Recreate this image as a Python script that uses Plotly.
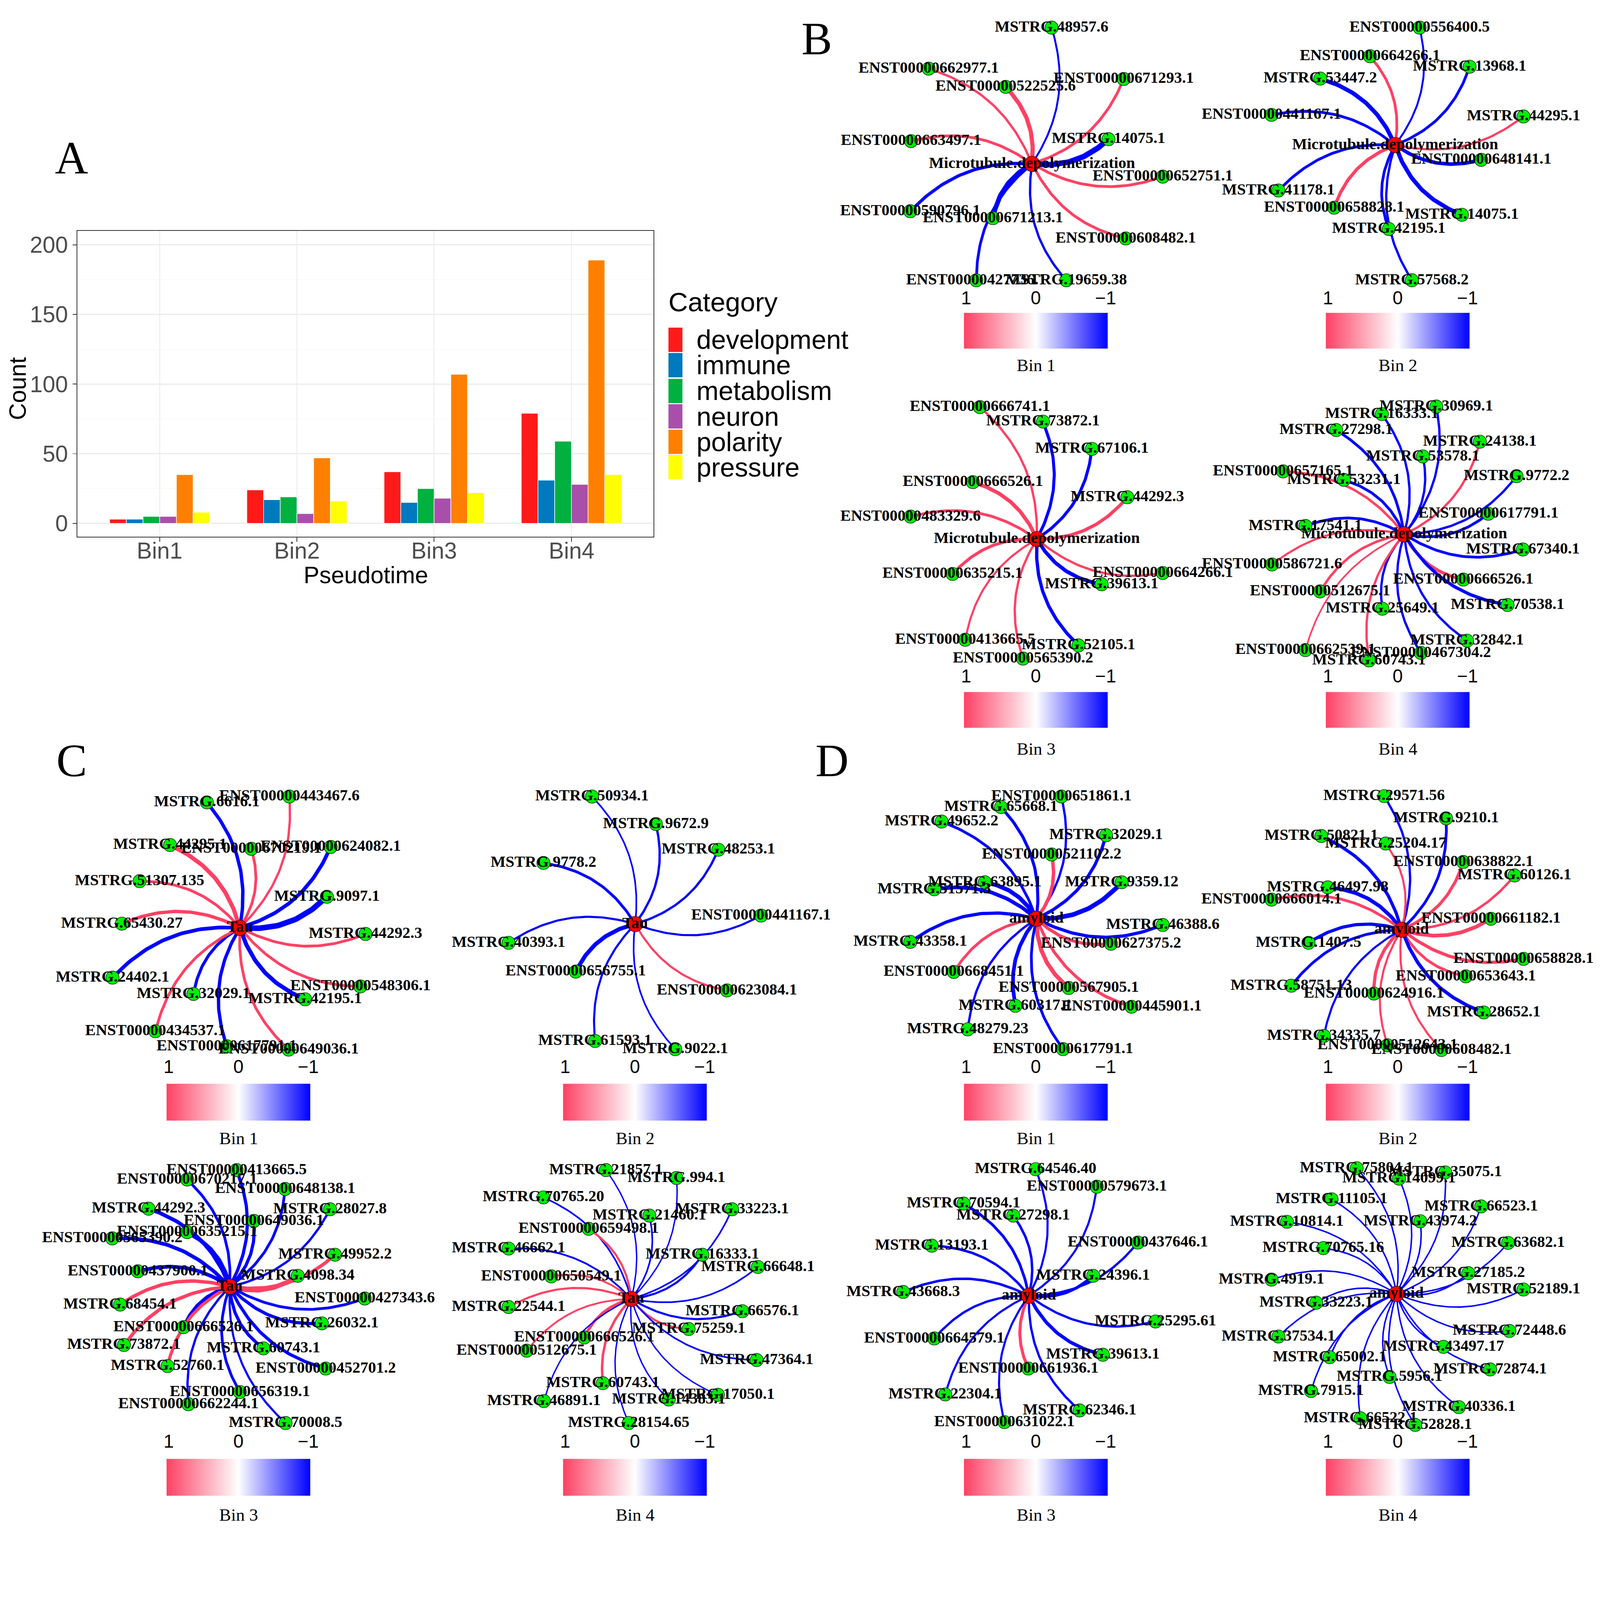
import numpy as np
import plotly.graph_objects as go

W, H = 4342, 4155

# ---------------- Panel A data ----------------
bins = ["Bin1", "Bin2", "Bin3", "Bin4"]
categories = ["development", "immune", "metabolism", "neuron", "polarity", "pressure"]
development = [3, 24, 37, 79]
immune = [3, 17, 15, 31]
metabolism = [5, 19, 25, 59]
neuron = [5, 7, 18, 28]
polarity = [35, 47, 107, 189]
pressure = [8, 16, 22, 35]
y_ticks = [0, 50, 100, 150, 200]

# ---------------- Network data (layout coords, hub at 0,0; r = correlation) ----------------
b1_hub = "Microtubule.depolymerization"
b1_names = ["MSTRG.48957.6", "ENST00000662977.1", "ENST00000522525.6", "ENST00000671293.1", "ENST00000663497.1",
            "MSTRG.14075.1", "ENST00000652751.1", "ENST00000590796.1", "ENST00000671213.1", "ENST00000608482.1",
            "ENST00000427736.1", "MSTRG.19659.38"]
b1_x = [26.7, -141, -36, 125, -165, 104.3, 178.3, -166, -53.3, 127.7, -76, 46.7]
b1_y = [230, 160.7, 130, 143.3, 38.3, 41.7, -21.7, -80, -91.7, -126, -196.7, -196.7]
b1_r = [-0.35, 0.42, 0.75, 0.5, 0.5, -1.0, 0.5, -0.58, -0.85, 0.5, -0.5, -0.42]

b2_hub = "Microtubule.depolymerization"
b2_names = ["ENST00000556400.5", "ENST00000664266.1", "MSTRG.13968.1", "MSTRG.53447.2", "ENST00000441167.1",
            "MSTRG.44295.1", "ENST00000648141.1", "MSTRG.41178.1", "ENST00000658828.1", "MSTRG.14075.1",
            "MSTRG.42195.1", "MSTRG.57568.2"]
b2_x = [31.7, -32.7, 96.7, -97.3, -160.7, 166.7, 111.7, -151.7, -79.3, 86.7, -8.3, 21.7]
b2_y = [198.3, 150, 132.3, 112.3, 51, 48.3, -25, -76.7, -105.7, -117.7, -141.7, -228.3]
b2_r = [-0.35, 0.5, -0.5, -0.75, -0.5, 0.4, -0.65, -0.5, 0.6, -0.75, -0.5, -0.42]

b3_hub = "Microtubule.depolymerization"
b3_names = ["ENST00000666741.1", "MSTRG.73872.1", "MSTRG.67106.1", "ENST00000666526.1", "MSTRG.44292.3",
            "ENST00000483329.6", "ENST00000635215.1", "ENST00000664266.1", "MSTRG.39613.1", "ENST00000413665.5",
            "MSTRG.52105.1", "ENST00000565390.2"]
b3_x = [-77.7, 8.3, 75, -87.3, 123.3, -172.3, -115, 171.7, 88.3, -97.7, 56.7, -19]
b3_y = [234, 208.3, 160, 101, 74.3, 40, -61.7, -60, -80, -178.3, -188.3, -211.7]
b3_r = [0.42, -0.55, -0.55, 0.67, 0.6, 0.5, 0.55, 0.42, -0.67, 0.38, -0.6, 0.42]

b4_hub = "Microtubule.depolymerization"
b4_names = ["MSTRG.30969.1", "MSTRG.16333.1", "MSTRG.27298.1", "MSTRG.24138.1", "MSTRG.53578.1",
            "ENST00000657165.1", "MSTRG.53231.1", "MSTRG.9772.2", "ENST00000617791.1", "MSTRG.17541.1",
            "MSTRG.67340.1", "ENST00000586721.6", "ENST00000666526.1", "ENST00000512675.1", "MSTRG.70538.1",
            "MSTRG.25649.1", "MSTRG.32842.1", "ENST00000662539.1", "ENST00000467304.2", "MSTRG.60743.1"]
b4_x = [41.7, -29, -88.3, 98.3, 24.3, -157.3, -78.3, 146, 109.3, -128.3, 154.3, -171.7, 76.7, -109.3, 134.3,
        -28.3, 81.7, -128.3, 21.7, -45.7]
b4_y = [226.7, 213.3, 185, 164.3, 138.3, 111.7, 96.7, 103.3, 36.7, 15, -26.7, -53.3, -80, -101, -125,
        -131.7, -188.3, -205, -210, -223.3]
b4_r = [-0.42, -0.42, -0.5, 0.42, -0.42, 0.45, -0.5, -0.42, -0.5, -0.5, -0.5, 0.38, 0.58, 0.45, -0.58,
        -0.42, -0.42, 0.3, -0.42, 0.42]

c1_hub = "Tau"
c1_names = ["MSTRG.6616.1", "ENST00000443467.6", "MSTRG.44295.1", "ENST00000670219.1", "ENST00000624082.1",
            "MSTRG.51307.135", "MSTRG.9097.1", "MSTRG.65430.27", "MSTRG.44292.3", "MSTRG.24402.1",
            "MSTRG.32029.1", "ENST00000548306.1", "MSTRG.42195.1", "ENST00000434537.1", "ENST00000617791.1",
            "ENST00000649036.1"]
c1_x = [-43.3, 65, -91.7, 15, 119.3, -131.7, 114.3, -155, 165, -167.3, -61, 158.3, 85.7, -111, -17.3, 64]
c1_y = [222.3, 232.7, 146.7, 140, 143.3, 82.7, 55, 7.3, -11, -88.3, -117.3, -104, -126.7, -183.3, -210, -216]
c1_r = [-0.62, 0.42, 0.75, 0.5, -0.67, 0.5, -1.0, 0.6, 0.5, -0.67, -0.55, 0.5, -0.75, 0.5, -0.6, 0.5]

c2_hub = "Tau"
c2_names = ["MSTRG.50934.1", "MSTRG.9672.9", "MSTRG.48253.1", "MSTRG.9778.2", "ENST00000441167.1",
            "MSTRG.40393.1", "ENST00000656755.1", "ENST00000623084.1", "MSTRG.61593.1", "MSTRG.9022.1"]
c2_x = [-55.7, 26.7, 107.3, -118.3, 162.3, -163.3, -76.7, 118.3, -51.7, 51.7]
c2_y = [226, 177.3, 131.7, 108.3, 15, -33.3, -84.3, -117.7, -207.3, -221.7]
c2_r = [-0.3, -0.42, -0.42, -0.5, -0.38, -0.38, -0.75, 0.38, -0.38, -0.3]

c3_hub = "Tau"
c3_names = ["ENST00000413665.5", "ENST00000670217.1", "ENST00000648138.1", "MSTRG.44292.3", "MSTRG.28027.8",
            "ENST00000649036.1", "ENST00000635215.1", "ENST00000565390.2", "MSTRG.49952.2", "ENST00000437900.1",
            "MSTRG.4098.34", "ENST00000427343.6", "MSTRG.68454.1", "MSTRG.26032.1", "ENST00000666526.1",
            "MSTRG.73872.1", "MSTRG.60743.1", "MSTRG.52760.1", "ENST00000452701.2", "ENST00000656319.1",
            "ENST00000662244.1", "MSTRG.70008.5"]
c3_x = [9, -56, 72.7, -106.7, 131.7, 31.7, -56, -154.3, 138.3, -120.7, 89.3, 177.3, -144, 121, -60.7, -139,
        44.3, -81.7, 126, 13.3, -54.3, 73.3]
c3_y = [206.7, 190, 173.3, 138.3, 137.3, 116.7, 96.7, 85.7, 56.7, 27.3, 19.3, -21, -31.7, -65, -71.7, -103.3,
        -109.3, -140.7, -145, -186.7, -208.3, -241.7]
c3_r = [-0.58, -0.5, -0.5, -0.67, -0.42, -0.58, -0.75, -0.67, 0.62, -0.67, 0.83, -0.5, 0.62, -0.58, -0.67,
        0.62, -0.58, 0.58, -0.58, -0.5, -0.42, -0.38]

c4_hub = "Tau"
c4_names = ["MSTRG.21857.1", "MSTRG.994.1", "MSTRG.70765.20", "MSTRG.33223.1", "MSTRG.21460.1",
            "ENST00000659498.1", "MSTRG.46662.1", "MSTRG.16333.1", "MSTRG.66648.1", "ENST00000650549.1",
            "MSTRG.22544.1", "MSTRG.66576.1", "MSTRG.75259.1", "ENST00000666526.1", "ENST00000512675.1",
            "MSTRG.47364.1", "MSTRG.60743.1", "MSTRG.46891.1", "MSTRG.14383.1", "MSTRG.17050.1",
            "MSTRG.28154.65"]
c4_x = [-32.7, 58.3, -113.3, 130, 23.3, -55, -158.3, 91.7, 163.3, -103.3, -158.3, 143.3, 74, -60.7, -135,
        161.7, -36.7, -112.7, 48.3, 111.7, -3.3]
c4_y = [228.3, 214.3, 180, 159, 147.7, 124.3, 89.3, 78.3, 56.7, 40, -14.3, -21.7, -53.3, -68.3, -91.7,
        -108.3, -149.3, -181, -178.3, -170, -220]
c4_r = [-0.25, -0.25, -0.3, -0.3, -0.3, 0.38, -0.33, -0.38, -0.3, 0.33, 0.38, -0.38, 0.38, 0.5, 0.33,
        -0.3, 0.45, -0.25, -0.25, -0.25, -0.25]

d1_hub = "amyloid"
d1_names = ["ENST00000651861.1", "MSTRG.65668.1", "MSTRG.49652.2", "MSTRG.32029.1", "ENST00000521102.2",
            "MSTRG.63895.1", "MSTRG.51571.3", "MSTRG.9359.12", "MSTRG.46388.6", "MSTRG.43358.1",
            "ENST00000627375.2", "ENST00000668451.1", "ENST00000567905.1", "MSTRG.60317.1", "ENST00000445901.1",
            "MSTRG.48279.23", "ENST00000617791.1"]
d1_x = [34, -48.3, -129.3, 95, 20.7, -70.3, -139.3, 116.3, 172.3, -172, 101.7, -112.7, 44, -28.7, 129.7,
        -93.7, 36.3]
d1_y = [216.7, 198, 172.3, 148, 114, 64.7, 52.3, 64.7, -11, -41, -44.3, -94.3, -122.7, -154.3, -156,
        -196, -231]
d1_r = [-0.42, -0.55, -0.5, -0.58, 0.62, -0.75, -0.67, -0.83, -0.58, -0.58, 0.58, 0.5, 0.75, -0.67, 0.55,
        -0.42, -0.5]

d2_hub = "amyloid"
d2_names = ["MSTRG.29571.56", "MSTRG.9210.1", "MSTRG.50821.1", "MSTRG.25204.17", "ENST00000638822.1",
            "MSTRG.60126.1", "MSTRG.46497.98", "ENST00000666014.1", "ENST00000661182.1", "MSTRG.1407.5",
            "ENST00000658828.1", "ENST00000653643.1", "MSTRG.58751.13", "ENST00000624916.1", "MSTRG.28652.1",
            "MSTRG.34335.7", "ENST00000512643.1", "ENST00000608482.1"]
d2_x = [-22.7, 57.7, -104.3, -20.7, 80, 146.7, -96, -169, 116, -121, 158.3, 83.3, -143.3, -36, 106.7, -101,
        -18.3, 51.7]
d2_y = [236.7, 197.3, 166, 152.7, 120, 96, 75, 53.3, 19.3, -23.3, -51.7, -82.7, -99.3, -113.3, -146.7,
        -188.3, -205, -213.3]
d2_r = [-0.42, -0.5, -0.58, 0.38, 0.55, 0.45, -0.67, 0.5, 0.67, -0.58, 0.58, 0.5, -0.5, 0.58, -0.62, -0.38,
        0.38, 0.38]

d3_hub = "amyloid"
d3_names = ["MSTRG.64546.40", "ENST00000579673.1", "MSTRG.70594.1", "MSTRG.27298.1", "ENST00000437646.1",
            "MSTRG.13193.1", "MSTRG.24396.1", "MSTRG.43668.3", "MSTRG.25295.61", "ENST00000664579.1",
            "MSTRG.39613.1", "ENST00000661936.1", "MSTRG.22304.1", "MSTRG.62346.1", "ENST00000631022.1"]
d3_x = [9.3, 92.7, -89, -21.3, 148.7, -132.3, 87.7, -171.3, 172.7, -129, 101, -0.7, -114, 69.3, -33.3]
d3_y = [224.3, 193.3, 163.3, 142, 94.3, 88.7, 35.3, 6.7, -45.7, -75.7, -104.7, -129, -175, -203.3, -224]
d3_r = [-0.38, -0.38, -0.5, -0.45, -0.42, -0.45, -0.55, -0.45, -0.42, -0.42, -0.62, 0.55, -0.38, -0.42, -0.38]

d4_hub = "amyloid"
d4_names = ["MSTRG.75804.1", "MSTRG.14099.1", "MSTRG.35075.1", "MSTRG.11105.1", "MSTRG.66523.1",
            "MSTRG.10814.1", "MSTRG.43974.2", "MSTRG.70765.16", "MSTRG.63682.1", "MSTRG.4919.1",
            "MSTRG.27185.2", "MSTRG.52189.1", "MSTRG.33223.1", "MSTRG.72448.6", "MSTRG.37534.1",
            "MSTRG.43497.17", "MSTRG.65002.1", "MSTRG.72874.1", "MSTRG.5956.1", "MSTRG.7915.1",
            "MSTRG.40336.1", "MSTRG.66522.1", "MSTRG.52828.1"]
d4_x = [-51.7, 3.3, 63.3, -84.3, 110, -142.3, 31, -95, 145, -162.3, 93.3, 165, -104.3, 146.7, -153.3, 61,
        -86.7, 121.7, -9, -111, 81, -46.7, 24.3]
d4_y = [222.7, 204.3, 215.3, 167.7, 155, 127.7, 128.7, 81, 90.3, 25.3, 36.7, 7.7, -15.7, -65.7, -75.7, -94,
        -112.3, -134, -147.3, -172.3, -200.7, -220.7, -232.3]
d4_r = [-0.27, -0.27, -0.27, -0.27, -0.27, -0.27, -0.27, -0.27, -0.27, -0.27, -0.29, -0.27, -0.27, -0.27,
        -0.27, -0.27, -0.29, -0.27, -0.27, -0.27, -0.27, -0.27, -0.27]

colorbar_ticks = ["1", "0", "\u22121"]

# ---------------- Styling / layout configuration ----------------
PINK = "#FF4164"
BLUE = "#0000FF"
NODE_GREEN = "#00EE00"
HUB_RED = "#FF0000"
SERIF = "Liberation Serif"
SANS = "Liberation Sans"
cat_colors = ["#FF1A1A", "#0079BF", "#00B140", "#A94FAB", "#FF8000", "#FFFF00"]

# panel geometry in page pixels: hub centre, px per layout unit, colourbar column/row
panels = [
    dict(key="b1", hx=2800.7, hy=444.6, fx=1.99, fy=1.607, cbx=2811, row=0, bin="Bin 1"),
    dict(key="b2", hx=3786.2, hy=393.7, fx=2.089, fy=1.607, cbx=3793, row=0, bin="Bin 2"),
    dict(key="b3", hx=2813.9, hy=1463.1, fx=1.99, fy=1.531, cbx=2811, row=1, bin="Bin 3"),
    dict(key="b4", hx=3810.6, hy=1450.3, fx=2.089, fy=1.531, cbx=3793, row=1, bin="Bin 4"),
    dict(key="c1", hx=651.0, hy=2517.8, fx=2.066, fy=1.531, cbx=647, row=2, bin="Bin 1"),
    dict(key="c2", hx=1723.7, hy=2507.6, fx=2.104, fy=1.531, cbx=1723, row=2, bin="Bin 2"),
    dict(key="c3", hx=623.5, hy=3491.8, fx=2.066, fy=1.531, cbx=647, row=3, bin="Bin 3"),
    dict(key="c4", hx=1713.2, hy=3525.0, fx=2.104, fy=1.531, cbx=1723, row=3, bin="Bin 4"),
    dict(key="d1", hx=2812.6, hy=2493.3, fx=1.99, fy=1.531, cbx=2811, row=2, bin="Bin 1"),
    dict(key="d2", hx=3803.7, hy=2522.9, fx=2.089, fy=1.531, cbx=3793, row=2, bin="Bin 2"),
    dict(key="d3", hx=2792.0, hy=3516.3, fx=1.99, fy=1.531, cbx=2811, row=3, bin="Bin 3"),
    dict(key="d4", hx=3789.7, hy=3511.2, fx=2.089, fy=1.531, cbx=3793, row=3, bin="Bin 4"),
]
# colourbar rows: (tick label y, bar top y, bar height, bin title y)
cb_rows = [(809, 849, 97, 990), (1835, 1878, 97, 2031), (2895, 2941, 100, 3088), (3912, 3959, 100, 4110)]
CB_LEN = 390
CB_TICK_SPACING = 189

net_data = {
    "b1": (b1_hub, b1_names, b1_x, b1_y, b1_r),
    "b2": (b2_hub, b2_names, b2_x, b2_y, b2_r),
    "b3": (b3_hub, b3_names, b3_x, b3_y, b3_r),
    "b4": (b4_hub, b4_names, b4_x, b4_y, b4_r),
    "c1": (c1_hub, c1_names, c1_x, c1_y, c1_r),
    "c2": (c2_hub, c2_names, c2_x, c2_y, c2_r),
    "c3": (c3_hub, c3_names, c3_x, c3_y, c3_r),
    "c4": (c4_hub, c4_names, c4_x, c4_y, c4_r),
    "d1": (d1_hub, d1_names, d1_x, d1_y, d1_r),
    "d2": (d2_hub, d2_names, d2_x, d2_y, d2_r),
    "d3": (d3_hub, d3_names, d3_x, d3_y, d3_r),
    "d4": (d4_hub, d4_names, d4_x, d4_y, d4_r),
}

fig = go.Figure()
annotations = []
shapes = []


def page_text(text, px, py, size, family=SANS, xanchor="center", yanchor="middle", angle=0, color="black"):
    annotations.append(dict(text=text, x=px / W, y=1 - py / H, xref="paper", yref="paper",
                            xanchor=xanchor, yanchor=yanchor, textangle=angle, showarrow=False,
                            font=dict(family=family, size=size, color=color)))


# ---------------- Panel A: grouped bars ----------------
A_left, A_right, A_top, A_bottom = 210, 1774, 626, 1457
series = [development, immune, metabolism, neuron, polarity, pressure]
for name, vals, col in zip(categories, series, cat_colors):
    fig.add_trace(go.Bar(x=bins, y=vals, name=name, marker=dict(color=col, line=dict(width=1.5, color="white")),
                         xaxis="x", yaxis="y", showlegend=False, hoverinfo="skip"))

TICKFONT = dict(family=SANS, size=62, color="#4D4D4D")
fig.update_layout(
    xaxis=dict(domain=[A_left / W, A_right / W], anchor="y", type="category",
               range=[-0.6, 3.6], showline=True, mirror=True, linecolor="#333333", linewidth=2,
               showgrid=True, gridcolor="#EBEBEB", gridwidth=2, ticks="outside", ticklen=11,
               tickwidth=2, tickcolor="#333333", showticklabels=False, zeroline=False),
    yaxis=dict(domain=[1 - A_bottom / H, 1 - A_top / H], anchor="x", range=[-9.7, 210.1],
               tickvals=y_ticks, showline=True, mirror=True, linecolor="#333333", linewidth=2,
               showgrid=True, gridcolor="#EBEBEB", gridwidth=2.5, ticks="outside", ticklen=11,
               tickwidth=2, tickcolor="#333333", tickfont=TICKFONT,
               zeroline=False, minor=dict(dtick=25, showgrid=True, gridcolor="#F4F4F4", gridwidth=1.2)),
    barmode="group", bargap=0.27, bargroupgap=0,
)
# x tick labels placed on the category scale
for b in bins:
    annotations.append(dict(text=b, x=b, xref="x", y=1 - 1495 / H, yref="paper", xanchor="center",
                            yanchor="middle", showarrow=False, font=TICKFONT))
page_text("Count", 48, 1055, 64, angle=-90)
page_text("Pseudotime", 993, 1561, 64)
# legend (drawn manually so keys match the reference size)
page_text("Category", 1812, 819, 73, xanchor="left")
leg_rows = [922, 991, 1061, 1130, 1199, 1268]
for name, col, ly in zip(categories, cat_colors, leg_rows):
    shapes.append(dict(type="rect", xref="paper", yref="paper", x0=1814 / W, x1=1852 / W,
                       y0=1 - (ly + 33) / H, y1=1 - (ly - 33) / H, fillcolor=col, line=dict(width=0)))
    page_text(name, 1888, ly, 72, xanchor="left")

# panel letters
for letter, lx, ly in [("A", 194, 429), ("B", 2216, 105), ("C", 194, 2064), ("D", 2258, 2064)]:
    page_text(letter, lx, ly, 125, family=SERIF)


def s_curve(x1, y1, theta=np.radians(25), k=0.38, n=50):
    """Cubic S-shaped bezier from (0,0) to (x1,y1) in pixel space."""
    L = np.hypot(x1, y1)
    phi = np.arctan2(y1, x1)
    p0 = np.array([0.0, 0.0])
    p1 = np.array([k * L * np.cos(phi - theta), k * L * np.sin(phi - theta)])
    p2 = np.array([x1 - k * L * np.cos(phi + theta), y1 - k * L * np.sin(phi + theta)])
    p3 = np.array([x1, y1])
    t = np.linspace(0, 1, n)[:, None]
    P = (1 - t) ** 3 * p0 + 3 * (1 - t) ** 2 * t * p1 + 3 * (1 - t) * t ** 2 * p2 + t ** 3 * p3
    return P[:, 0], P[:, 1]


HALF_W, HALF_H = 430, 430
for i, p in enumerate(panels):
    ax = i + 2
    xa, ya = f"x{ax}", f"y{ax}"
    hub, names, xs, ys, rs = net_data[p["key"]]
    fx, fy = p["fx"], p["fy"]
    left = max(p["hx"] - HALF_W, 0)
    right = min(p["hx"] + HALF_W, W)
    top = max(p["hy"] - HALF_H, 0)
    bottom = min(p["hy"] + HALF_H, H)
    fig.layout[f"xaxis{ax}"] = dict(domain=[left / W, right / W],
                                    range=[-(p["hx"] - left) / fx, (right - p["hx"]) / fx],
                                    visible=False, anchor=ya)
    fig.layout[f"yaxis{ax}"] = dict(domain=[1 - bottom / H, 1 - top / H],
                                    range=[-(bottom - p["hy"]) / fy, (p["hy"] - top) / fy],
                                    visible=False, anchor=xa)
    # edges
    for x, y, r in zip(xs, ys, rs):
        cx, cy = s_curve(x * fx, y * fy)
        fig.add_trace(go.Scatter(x=cx / fx, y=cy / fy, mode="lines", xaxis=xa, yaxis=ya, cliponaxis=False,
                                 line=dict(color=PINK if r > 0 else BLUE, width=15 * abs(r)),
                                 hoverinfo="skip", showlegend=False))
    # nodes
    fig.add_trace(go.Scatter(x=xs, y=ys, mode="markers", xaxis=xa, yaxis=ya, cliponaxis=False,
                             marker=dict(size=36, color=NODE_GREEN, line=dict(color="#1A1A1A", width=1.5)),
                             hoverinfo="skip", showlegend=False))
    fig.add_trace(go.Scatter(x=[0], y=[0], mode="markers", xaxis=xa, yaxis=ya, cliponaxis=False,
                             marker=dict(size=42, color=HUB_RED, line=dict(color="#1A1A1A", width=1.5)),
                             hoverinfo="skip", showlegend=False))
    # labels
    fig.add_trace(go.Scatter(x=list(xs) + [0], y=list(ys) + [0], mode="text", xaxis=xa, yaxis=ya,
                             text=list(names) + [hub], textposition="middle center", cliponaxis=False,
                             textfont=dict(family=SERIF, size=43, color="black", weight="bold"),
                             hoverinfo="skip", showlegend=False))
    # colour bar
    lab_y, bar_top, bar_h, title_y = cb_rows[p["row"]]
    fig.add_trace(go.Scatter(x=[None], y=[None], mode="markers", xaxis=xa, yaxis=ya, showlegend=False,
                             hoverinfo="skip",
                             marker=dict(color=[0], cmin=-1, cmax=1, showscale=True,
                                         colorscale=[[0, PINK], [0.5, "#FFFFFF"], [1, BLUE]],
                                         colorbar=dict(orientation="h", x=p["cbx"] / W, xanchor="center",
                                                       y=1 - bar_top / H, yanchor="top",
                                                       len=CB_LEN, lenmode="pixels",
                                                       thickness=bar_h, thicknessmode="pixels",
                                                       outlinewidth=0, showticklabels=False, ticks="",
                                                       xpad=0, ypad=0))))
    for k, t in enumerate(colorbar_ticks):
        page_text(t, p["cbx"] + (k - 1) * CB_TICK_SPACING, lab_y, 50)
    page_text(p["bin"], p["cbx"], title_y, 48, family=SERIF)

fig.update_layout(width=W, height=H, margin=dict(l=0, r=0, t=0, b=0), paper_bgcolor="white",
                  plot_bgcolor="rgba(0,0,0,0)", showlegend=False, annotations=annotations, shapes=shapes)

# fit the fixed-size figure into whatever CSS viewport the browser window provides
FIT_JS = """
(function(){
  var gd = document.getElementById('{plot_id}');
  document.documentElement.style.margin = '0';
  document.body.style.margin = '0';
  document.body.style.overflow = 'hidden';
  var s = Math.min(window.innerWidth / %d, window.innerHeight / %d);
  if (s < 1) {
    gd.style.transformOrigin = '0 0';
    gd.style.transform = 'scale(' + s + ')';
  }
})();
""" % (W, H)
fig.write_html("out.html", post_script=FIT_JS, config={"displayModeBar": False})
